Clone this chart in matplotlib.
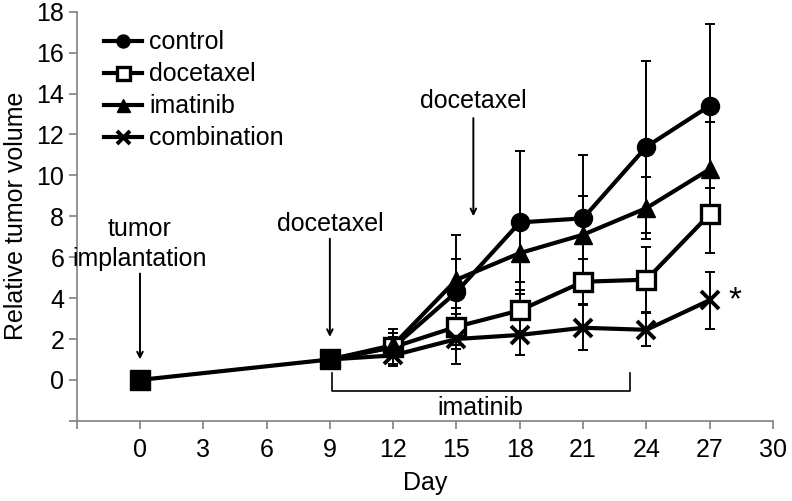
import numpy as np
import matplotlib
matplotlib.use("Agg")
import matplotlib.pyplot as plt

plt.rcParams['font.family'] = ['Liberation Sans', 'DejaVu Sans']

# shared start points (day 0 implantation, day 9 baseline)
days_start = [0, 9]
vol_start = [0, 1]

days = [9, 12, 15, 18, 21, 24, 27]
control = [1, 1.6, 4.3, 7.7, 7.9, 11.4, 13.4]
control_err = [0, 0.9, 2.8, 3.5, 3.1, 4.2, 4.0]
docetaxel = [1, 1.6, 2.6, 3.4, 4.8, 4.9, 8.1]
docetaxel_err = [0, 0.5, 0.9, 1.0, 1.1, 1.6, 1.9]
imatinib = [1, 1.7, 4.9, 6.2, 7.1, 8.4, 10.3]
imatinib_err = [0, 0.6, 1.0, 1.4, 1.9, 1.5, 2.3]
combination = [1, 1.2, 2.0, 2.2, 2.55, 2.45, 3.9]
combination_err = [0, 0.4, 1.2, 1.0, 1.1, 0.8, 1.4]

xticks = [0, 3, 6, 9, 12, 15, 18, 21, 24, 27, 30]
yticks = [0, 2, 4, 6, 8, 10, 12, 14, 16, 18]

FS = 18

fig = plt.figure(figsize=(7.92, 5.01), dpi=100)
ax = fig.add_axes([0.0968, 0.16, 0.8792, 0.8166])

series = [
    ("control", control, control_err, dict(marker="o", ms=13, mfc="black")),
    ("docetaxel", docetaxel, docetaxel_err, dict(marker="s", ms=13, mfc="white", mew=2.4)),
    ("imatinib", imatinib, imatinib_err, dict(marker="^", ms=13, mfc="black")),
    ("combination", combination, combination_err, dict(marker="x", ms=13, mew=2.8)),
]

# error bars first, thin with small caps
for name, vals, err, st in series:
    ax.errorbar(days[1:], vals[1:], yerr=err[1:], fmt="none", ecolor="black",
                elinewidth=1.4, capsize=3.5, capthick=1.4, zorder=2)

handles = []
for name, vals, err, st in series:
    ax.plot(days, vals, color="black", lw=3, zorder=3)
    ax.plot(days[1:], vals[1:], ls="none", color="black", mec="black", zorder=4, **st)
    h, = ax.plot([], [], color="black", lw=3, label=name, **st)
    handles.append(h)

ax.plot(days_start, vol_start, color="black", lw=3, marker="s", ms=15,
        mfc="black", mec="black", zorder=5)

ax.set_xlim(-3, 30)
ax.set_ylim(-2, 18)
ax.set_xticks([-3] + xticks)
ax.set_xticklabels([""] + [str(t) for t in xticks])
ax.set_yticks([-2] + yticks)
ax.set_yticklabels([""] + [str(t) for t in yticks])
ax.tick_params(labelsize=FS, color="#808080", length=6, width=1.2)
ax.tick_params(axis="x", pad=6)
ax.tick_params(axis="y", pad=3)
for s in ["top", "right"]:
    ax.spines[s].set_visible(False)
for s in ["left", "bottom"]:
    ax.spines[s].set_color("#808080")
    ax.spines[s].set_linewidth(1.2)

ax.set_xlabel("Day", fontsize=FS, labelpad=7)
ax.set_ylabel("Relative tumor volume", fontsize=FS, labelpad=6)

# annotations
arrow = dict(arrowstyle="->", color="black", lw=1.4, shrinkA=0, shrinkB=0)
ax.annotate("", xy=(0, 1.0), xytext=(0, 5.2), arrowprops=arrow)
ax.text(0, 6.65, "tumor\nimplantation", ha="center", va="center", fontsize=FS,
        linespacing=1.35)
ax.annotate("", xy=(9, 2.1), xytext=(9, 6.9), arrowprops=arrow)
ax.text(9, 7.6, "docetaxel", ha="center", va="center", fontsize=FS)
ax.annotate("", xy=(15.8, 8.0), xytext=(15.8, 12.8), arrowprops=arrow)
ax.text(15.8, 13.65, "docetaxel", ha="center", va="center", fontsize=FS)

ax.plot([9.1, 9.1, 23.2, 23.2], [0.35, -0.55, -0.55, 0.35], color="black", lw=1.2)
ax.text(16.15, -1.35, "imatinib", ha="center", va="center", fontsize=FS)
ax.text(28.2, 3.85, "*", ha="center", va="center", fontsize=24)

leg = ax.legend(handles=handles, loc="upper left", bbox_to_anchor=(0.022, 0.985),
                frameon=False, fontsize=FS, handlelength=1.5, handletextpad=0.3,
                labelspacing=0.32, markerscale=0.72, borderpad=0)

fig.savefig("out.png", dpi=100)
